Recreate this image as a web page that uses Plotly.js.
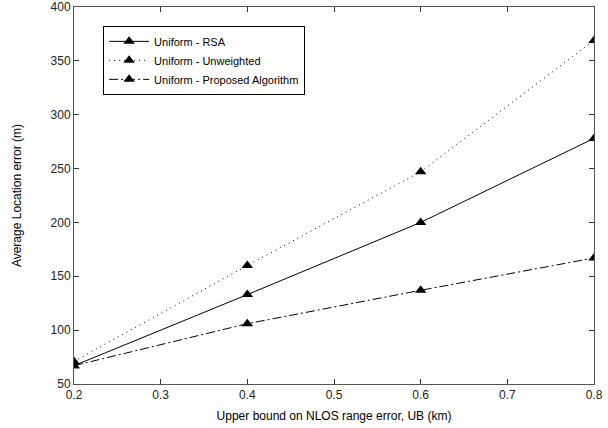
<!DOCTYPE html>
<html>
<head>
<meta charset="utf-8">
<script src="https://cdn.plot.ly/plotly-3.0.1.min.js"></script>
<style>html,body{margin:0;padding:0;background:#fff;}#chart{width:608px;height:428px;}</style>
</head>
<body>
<div id="chart"></div>
<script>
const xValues = [0.2, 0.4, 0.6, 0.8];
const rsa = [67, 133, 200, 278];
const unweighted = [71, 160, 247, 369];
const proposed = [67, 106, 137, 167];
const seriesNames = ["Uniform - RSA", "Uniform - Unweighted", "Uniform - Proposed Algorithm"];
const xTicks = [0.2, 0.3, 0.4, 0.5, 0.6, 0.7, 0.8];
const yTicks = [50, 100, 150, 200, 250, 300, 350, 400];

const mk = {symbol: "triangle-up", size: 10, color: "#000"};
const traces = [
  {x: xValues, y: rsa, name: seriesNames[0], mode: "lines+markers", line: {color: "#000", width: 1, dash: "solid"}, marker: mk},
  {x: xValues, y: unweighted, name: seriesNames[1], mode: "lines+markers", line: {color: "#000", width: 1, dash: "1px,4px"}, marker: mk},
  {x: xValues, y: proposed, name: seriesNames[2], mode: "lines+markers", line: {color: "#000", width: 1, dash: "9px,3px,2px,3px"}, marker: mk}
];
const fontFam = "Liberation Sans, Arial, sans-serif";
const axisCommon = {
  showgrid: false, zeroline: false, showline: true, mirror: "ticks",
  linecolor: "#555", linewidth: 1, ticks: "inside", ticklen: 5, tickcolor: "#333",
  tickfont: {family: fontFam, size: 12, color: "#222"}
};
const layout = {
  width: 608, height: 428,
  margin: {l: 74, r: 14, t: 7, b: 44},
  paper_bgcolor: "#fff", plot_bgcolor: "#fff",
  showlegend: true,
  legend: {x: 0.056, y: 0.95, xanchor: "left", yanchor: "top", bordercolor: "#000", borderwidth: 1,
    bgcolor: "#fff", font: {family: fontFam, size: 11, color: "#000"},
    itemwidth: 40, tracegroupgap: 0},
  xaxis: Object.assign({}, axisCommon, {range: [0.2, 0.8], tickvals: xTicks, ticktext: xTicks.map(v => v.toFixed(1)),
    title: {text: "Upper bound on NLOS range error, UB (km)", standoff: 10, font: {family: fontFam, size: 12, color: "#000"}}}),
  yaxis: Object.assign({}, axisCommon, {range: [50, 400], tickvals: yTicks,
    title: {text: "Average Location error (m)", standoff: 26, font: {family: fontFam, size: 12, color: "#000"}}})
};
Plotly.newPlot("chart", traces, layout, {displayModeBar: false, staticPlot: true});
</script>
</body>
</html>
